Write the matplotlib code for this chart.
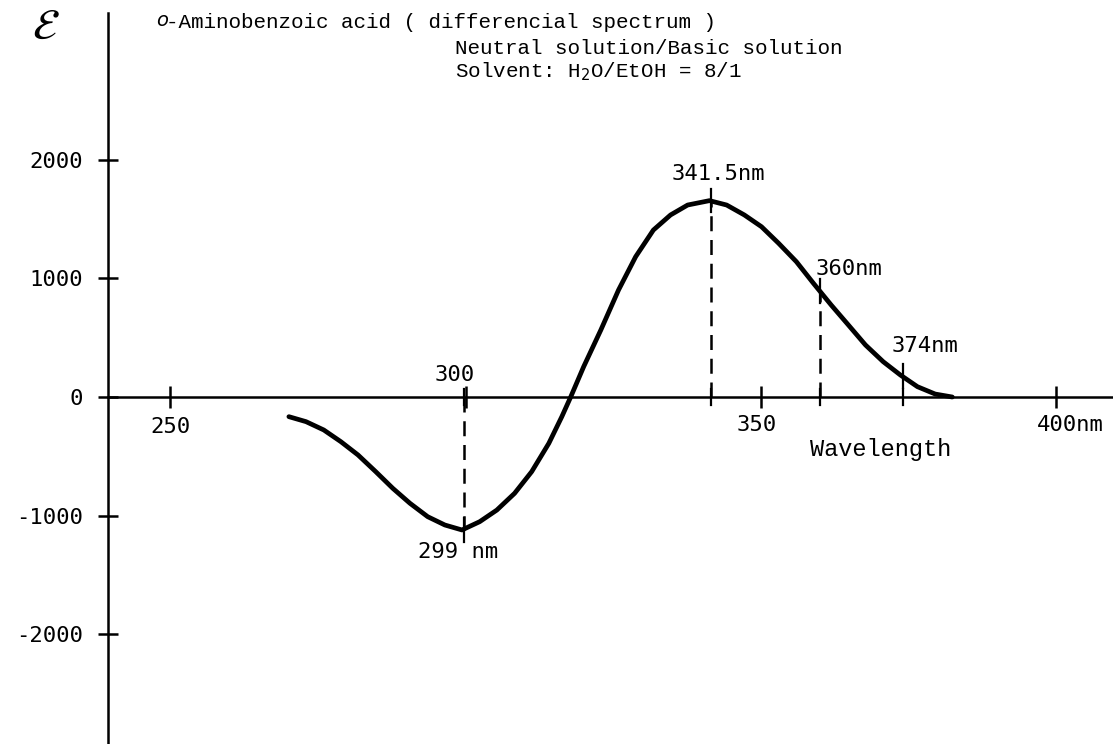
import numpy as np
import matplotlib
matplotlib.use("Agg")
import matplotlib.pyplot as plt

wl = [270.1, 273.0, 276.0, 278.9, 281.8, 284.8, 287.7, 290.6, 293.6, 296.5,
      299.4, 302.4, 305.3, 308.3, 311.2, 314.1, 316.3, 317.8, 320.0, 322.9,
      325.9, 328.8, 331.8, 334.7, 337.6, 341.3, 344.2, 347.2, 350.1, 353.0,
      356.0, 358.9, 361.9, 364.8, 367.7, 370.7, 373.6, 376.5, 379.5, 382.4]
eps = [-166, -208, -278, -377, -489, -630, -771, -897, -1010, -1080,
       -1122, -1052, -954, -813, -630, -391, -166, 0, 256, 565,
       903, 1184, 1409, 1536, 1620, 1657, 1620, 1536, 1437, 1297,
       1142, 959, 776, 608, 439, 298, 186, 87, 25, 0]

x_ticks = [250, 300, 350, 400]
x_tick_labels = ["250", "300", "350", "400nm"]
y_ticks = [-2000, -1000, 0, 1000, 2000]

# marked wavelengths: (nm, epsilon at curve, label)
mark_nm = [299.8, 341.5, 360, 374]
mark_eps = [-1122, 1657, 892, 175]
mark_lbl = ["299 nm", "341.5nm", "360nm", "374nm"]
mark_dashed = [True, True, True, False]

mono = "Liberation Mono"
num = "DejaVu Sans Mono"

fig = plt.figure(figsize=(11.13, 7.44), dpi=100)
ax = fig.add_axes([0, 0, 1, 1])
ax.set_xlim(221.2, 409.6)
ax.set_ylim(-2928, 3350)

ax.plot(wl, eps, color="black", lw=3.4, solid_capstyle="round",
        solid_joinstyle="round", zorder=3)

# axes crossing at the origin-like point
for s in ["top", "right"]:
    ax.spines[s].set_visible(False)
ax.spines["left"].set_position(("data", 239.5))
ax.spines["bottom"].set_position(("data", 0))
ax.spines["left"].set_bounds(-2928, 3240)
ax.spines["bottom"].set_bounds(239.5, 409.6)
ax.spines["left"].set_linewidth(1.8)
ax.spines["bottom"].set_linewidth(1.8)

ax.set_yticks(y_ticks)
ax.set_yticklabels([str(v) for v in y_ticks], fontfamily=num, fontsize=16)
ax.tick_params(axis="y", direction="inout", length=14, width=1.8, pad=11)
ax.set_xticks(x_ticks)
ax.set_xticklabels([])
ax.tick_params(axis="x", direction="inout", length=16, width=1.8)

# x tick labels (300 sits above the axis)
x_off = [(0, -30), (-11, 22), (-4, -28), (-19, -28)]
x_ha = ["center", "center", "center", "left"]
for xv, lbl, off, ha in zip(x_ticks, x_tick_labels, x_off, x_ha):
    ax.annotate(lbl, xy=(xv, 0), xytext=off, textcoords="offset pixels",
                ha=ha, va="center", fontfamily=num, fontsize=16)

ax.annotate("Wavelength", xy=(350, 0), xytext=(49, -52), textcoords="offset pixels",
            ha="left", va="center", fontfamily=mono, fontsize=17)

# dashed drop lines and small ticks at marked wavelengths
lbl_off = [(-46, -22), (-39, 27), (-4, 22), (-11, 30)]
for nm, ev, lbl, dashed, off in zip(mark_nm, mark_eps, mark_lbl, mark_dashed, lbl_off):
    if dashed:
        ax.plot([nm, nm], [0, ev], color="black", lw=1.8, ls=(0, (6, 3.5)), zorder=2)
    ax.plot([nm, nm], [ev - 100, ev + 100], color="black", lw=1.6, zorder=2)
    ax.plot([nm, nm], [-70, 70], color="black", lw=1.6, zorder=2)
    ax.annotate(lbl, xy=(nm, ev), xytext=off, textcoords="offset pixels",
                ha="left", va="center", fontfamily=num, fontsize=16)

# header text
W, H = 1113, 744
fig.text(46 / W, 1 - 27 / H, r"$\mathcal{E}$", fontsize=31, ha="center", va="center",
         math_fontfamily="stix")
fig.text(156 / W, 1 - 21 / H, "o", fontsize=14, style="italic", fontfamily="DejaVu Sans",
         ha="left", va="center")
fig.text(166 / W, 1 - 23 / H, "-Aminobenzoic acid ( differencial spectrum )",
         fontfamily=mono, fontsize=15, ha="left", va="center")
fig.text(455 / W, 1 - 48 / H, "Neutral solution/Basic solution",
         fontfamily=mono, fontsize=15, ha="left", va="center")
fig.text(455 / W, 1 - 72 / H, "Solvent: H$_{2}$O/EtOH = 8/1",
         fontfamily=mono, fontsize=15, ha="left", va="center")

fig.savefig("out.png", dpi=100, facecolor="white")
